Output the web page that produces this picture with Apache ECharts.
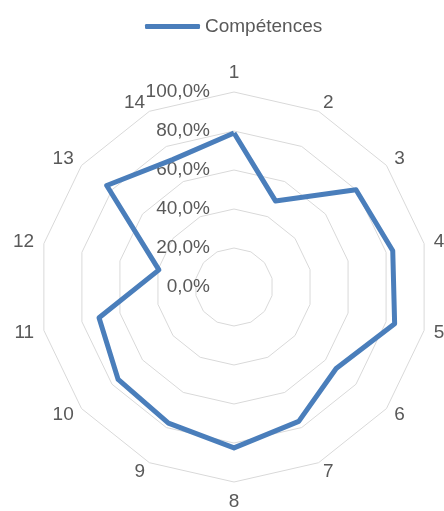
<!DOCTYPE html>
<html>
<head>
<meta charset="utf-8">
<script src="https://cdn.jsdelivr.net/npm/echarts@6/dist/echarts.min.js"></script>
<style>
  html, body { margin: 0; padding: 0; background: #fff; }
  #chart { width: 444px; height: 511px; }
</style>
</head>
<body>
<div id="chart"></div>
<script>
// catégories (axes du radar), dans l'ordre d'Excel (sens horaire)
var categories = ['1', '2', '3', '4', '5', '6', '7', '8', '9', '10', '11', '12', '13', '14'];
// valeurs en %
var competences = [79, 49, 80, 83.5, 84.5, 67, 76.5, 82.5, 77.5, 76, 71, 39.5, 83.5, 72.5];
var seriesName = 'Compétences';

// ECharts place les indicateurs dans le sens anti-horaire : on inverse (sauf le premier)
function cw(arr) {
  return [arr[0]].concat(arr.slice(1).reverse());
}

var chart = echarts.init(document.getElementById('chart'));
var txt = '#595959';
var fontFam = '"Liberation Sans", Arial, sans-serif';

var indicators = cw(categories).map(function (c, i) {
  var ind = { name: c, min: 0, max: 100 };
  if (i === 0) {
    ind.axisLabel = {
      show: true,
      color: txt,
      fontSize: 19,
      fontFamily: fontFam,
      margin: 24,
      padding: [4, 0, 0, 0],
      formatter: function (v) { return v.toFixed(1).replace('.', ',') + '%'; }
    };
  }
  return ind;
});

var option = {
  animation: false,
  textStyle: { fontFamily: fontFam },
  legend: {
    data: [seriesName],
    left: 140,
    top: 12,
    itemWidth: 55,
    itemHeight: 5,
    itemGap: 10,
    icon: 'roundRect',
    textStyle: { color: txt, fontSize: 19, fontFamily: fontFam }
  },
  radar: {
    center: [234, 287],
    radius: 195,
    startAngle: 90,
    splitNumber: 5,
    shape: 'polygon',
    indicator: indicators,
    axisName: { color: txt, fontSize: 19, fontFamily: fontFam },
    nameGap: 10,
    axisLine: { show: false },
    axisTick: { show: false },
    axisLabel: { show: false },
    splitLine: { lineStyle: { color: '#d9d9d9', width: 1 } },
    splitArea: { show: false }
  },
  series: [{
    name: seriesName,
    type: 'radar',
    symbol: 'none',
    lineStyle: { color: '#4a7ebb', width: 5, join: 'round' },
    itemStyle: { color: '#4a7ebb' },
    data: [{ value: cw(competences), name: seriesName }]
  }]
};
chart.setOption(option);
</script>
</body>
</html>
